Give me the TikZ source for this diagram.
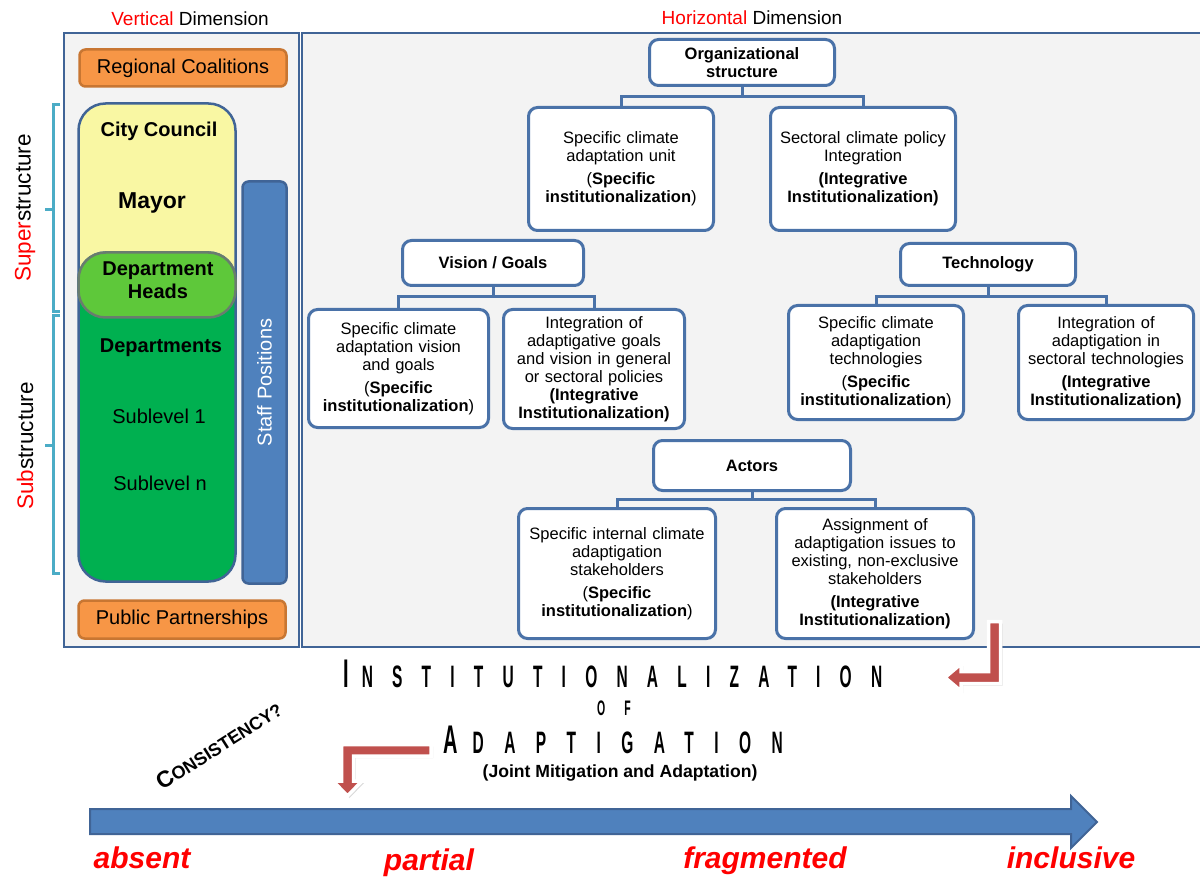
\documentclass[tikz,border=0pt]{standalone}
\usepackage{fontspec}
\setmainfont{Liberation Sans}
\newfontfamily\spreadfont[FakeStretch=0.5,LetterSpace=62]{Liberation Sans}
\newfontfamily\widespread[FakeStretch=0.5,LetterSpace=66]{Liberation Sans}
\newfontfamily\offont[FakeStretch=0.5,LetterSpace=90]{Liberation Sans}
\usetikzlibrary{shadows}
\definecolor{panelblue}{RGB}{64,100,150}
\definecolor{boxblue}{RGB}{74,114,168}
\definecolor{panelfill}{RGB}{243,243,243}
\definecolor{orangefill}{RGB}{247,150,70}
\definecolor{orangeedge}{RGB}{200,118,50}
\definecolor{yellowfill}{RGB}{249,247,163}
\definecolor{limefill}{RGB}{94,200,58}
\definecolor{deepgreen}{RGB}{0,176,80}
\definecolor{staffblue}{RGB}{79,129,189}
\definecolor{bracecyan}{RGB}{75,172,198}
\definecolor{arrowred}{RGB}{192,80,77}
\definecolor{headedge}{RGB}{105,125,110}

\begin{document}
\begin{tikzpicture}[x=1pt,y=-1pt,
 panel/.style={draw=panelblue,line width=2.5pt,fill=panelfill},
 orangebox/.style={draw=orangeedge,line width=2.5pt,fill=orangefill,rounded corners=6pt,
 minimum width=207pt,minimum height=37pt,font=\fontsize{20}{24}\selectfont},
 levelbox/.style={draw=panelblue,line width=2.5pt,rounded corners=27pt,minimum width=157pt},
 lefttext/.style={font=\fontsize{20}{23}\selectfont,align=center,anchor=base},
 tbox/.style={draw=boxblue,line width=3pt,rounded corners=9pt,fill=white,align=center,
 inner sep=0pt,font=\fontsize{16.5}{18}\selectfont},
 thead/.style={tbox,font=\fontsize{16.5}{18}\selectfont\bfseries},
 link/.style={draw=boxblue,line width=3pt},
 brace/.style={draw=bracecyan,line width=3pt},
 bentarrow/.style={fill=arrowred,draw=white,line width=3.5pt,
 drop shadow={opacity=0.3,shadow xshift=2pt,shadow yshift=-2pt}},
 scale label/.style={font=\fontsize{30}{30}\selectfont\bfseries\itshape,text=red,anchor=base}]
\fill[white] (0,0) rectangle (1200,877);
\useasboundingbox (0,0) rectangle (1200,877);

% the two panels
\draw[panel] (64,33) rectangle (299,647);
\draw[panel] (302,33) rectangle (1210,647);
\node[font=\fontsize{19}{22}\selectfont,anchor=base] (vdim) at (190,26) {\textcolor{red}{Vertical} Dimension};
\node[font=\fontsize{19}{22}\selectfont,anchor=base] (hdim) at (752,25) {\textcolor{red}{Horizontal} Dimension};

% vertical dimension
\node[orangebox] (regional) at (183,68) {Regional Coalitions};
\node[orangebox,minimum height=38pt] (public) at (182,619.5) {Public Partnerships};
\node[levelbox,fill=yellowfill,minimum height=214pt] (council) at (157,210.5) {};
\node[levelbox,fill=deepgreen,minimum height=329pt] (depts) at (157,417) {};
\node[levelbox,fill=limefill,draw=headedge,minimum height=65pt] (heads) at (157,285) {};
\node[draw=panelblue,line width=2.5pt,fill=staffblue,rounded corners=6pt,rotate=90,
 minimum width=402pt,minimum height=44pt,text=white,font=\fontsize{20}{24}\selectfont]
 (staff) at (264.5,382.5) {Staff Positions};
\node[lefttext,font=\fontsize{20}{23}\selectfont\bfseries] (councillbl) at (159,137) {City Council};
\node[lefttext,font=\fontsize{23}{26}\selectfont\bfseries] (mayor) at (152,209) {Mayor};
\node[font=\fontsize{20}{23}\selectfont\bfseries,align=center] (headslbl) at (158,280) {Department\\Heads};
\node[lefttext,font=\fontsize{20}{23}\selectfont\bfseries] (deptslbl) at (161,353) {Departments};
\node[lefttext] (sub1) at (159,423) {Sublevel 1};
\node[lefttext] (subn) at (160,490) {Sublevel n};

% braces
\draw[brace] (60,105) -- (53,105) -- (53,312) -- (60,312);
\draw[brace] (53,210) -- (45,210);
\draw[brace] (60,316) -- (53,316) -- (53,573) -- (60,573);
\draw[brace] (53,445) -- (45,445);
\node[rotate=90,font=\fontsize{22.5}{26}\selectfont] (super) at (25,208) {\textcolor{red}{Super}structure};
\node[rotate=90,font=\fontsize{22.5}{26}\selectfont] (subs) at (25,446) {\textcolor{red}{Sub}structure};

% horizontal dimension
\node[thead,minimum width=185pt,minimum height=46pt] (org) at (742,62.5) {Organizational\\structure};
\node[tbox,minimum width=185pt,minimum height=123pt,text width=180pt] (unit) at (621,169)
 {Specific climate\\adaptation unit\\[5pt](\textbf{Specific\\institutionalization})};
\node[tbox,minimum width=185pt,minimum height=123pt,text width=180pt] (policy) at (863,169)
 {Sectoral climate policy\\Integration\\[5pt]\textbf{(Integrative\\Institutionalization)}};

\node[thead,minimum width=181pt,minimum height=45pt] (vision) at (493,263) {Vision / Goals};
\node[tbox,minimum width=180pt,minimum height=118pt,text width=176pt] (visspec) at (398.5,368.5)
 {Specific climate\\adaptation vision\\and goals\\[5pt](\textbf{Specific\\institutionalization})};
\node[tbox,minimum width=181pt,minimum height=119pt,text width=177pt] (visint) at (594,369)
 {Integration of\\adaptigative goals\\and vision in general\\or sectoral policies\\\textbf{(Integrative\\Institutionalization)}};

\node[thead,minimum width=175pt,minimum height=42pt] (tech) at (988,264.5) {Technology};
\node[tbox,minimum width=175pt,minimum height=114pt,text width=171pt] (techspec) at (876,362.5)
 {Specific climate\\adaptigation\\technologies\\[5pt](\textbf{Specific\\institutionalization})};
\node[tbox,minimum width=175pt,minimum height=114pt,text width=171pt] (techint) at (1106,362.5)
 {Integration of\\adaptigation in\\sectoral technologies\\[5pt]\textbf{(Integrative\\Institutionalization)}};

\node[thead,minimum width=197pt,minimum height=50pt] (actors) at (752,465.5) {Actors};
\node[tbox,minimum width=197pt,minimum height=130pt,text width=192pt] (actspec) at (617,573.5)
 {Specific internal climate\\adaptigation\\stakeholders\\[5pt](\textbf{Specific\\institutionalization})};
\node[tbox,minimum width=197pt,minimum height=130pt,text width=192pt] (actint) at (875,573.5)
 {Assignment of\\adaptigation issues to\\existing, non-exclusive\\stakeholders\\[5pt]\textbf{(Integrative\\Institutionalization)}};

\draw[link] (org.south) -- ++(0,10) -| (unit.north);
\draw[link] (org.south) -- ++(0,10) -| (policy.north);
\draw[link] (vision.south) -- ++(0,10) -| (visspec.north);
\draw[link] (vision.south) -- ++(0,10) -| (visint.north);
\draw[link] (tech.south) -- ++(0,10) -| (techspec.north);
\draw[link] (tech.south) -- ++(0,10) -| (techint.north);
\draw[link] (actors.south) -- ++(0,7) -| (actspec.north);
\draw[link] (actors.south) -- ++(0,7) -| (actint.north);

% title and bent arrows
\draw[bentarrow] (988.5,621.5) -- (1000.5,621.5) -- (1000.5,683.5) -- (961,683.5) -- (961,691)
 -- (945,677.5) -- (961,664) -- (961,671.5) -- (988.5,671.5) -- cycle;
\draw[bentarrow] (431,744.5) -- (431,756) -- (353.5,756) -- (353.5,781) -- (362,781)
 -- (347.5,796) -- (333,781) -- (341.5,781) -- (341.5,744.5) -- cycle;
\node[anchor=base west,inner sep=0pt] (title) at (343,687)
 {\spreadfont\bfseries\fontsize{40}{40}\selectfont I\kern13pt\fontsize{31}{31}\selectfont NSTITUTIONALIZATION};
\node[anchor=base west,inner sep=0pt] (of) at (597,715) {\offont\bfseries\fontsize{21}{21}\selectfont OF};
\node[anchor=base west,inner sep=0pt] (adapt) at (443,753)
 {\widespread\bfseries\fontsize{40}{40}\selectfont A\kern15pt\fontsize{31}{31}\selectfont DAPTIGATION};
\node[anchor=base,font=\fontsize{17.6}{20}\selectfont\bfseries] (joint) at (620,777) {(Joint Mitigation and Adaptation)};
\node[anchor=base,rotate=32.5,font=\bfseries] (consist) at (223,752)
 {\fontsize{23}{23}\selectfont C\fontsize{18}{18}\selectfont ONSISTENCY?};

% scale arrow
\draw[draw=panelblue,line width=2pt,fill=staffblue] (90,809) -- (1071,809) -- (1071,796) -- (1097,822)
 -- (1071,848) -- (1071,834) -- (90,834) -- cycle;
\node[scale label] (absent) at (142,868) {absent};
\node[scale label] (partial) at (429,870) {partial};
\node[scale label] (fragmented) at (765,868) {fragmented};
\node[scale label] (inclusive) at (1071,868) {inclusive};
\end{tikzpicture}
\end{document}
